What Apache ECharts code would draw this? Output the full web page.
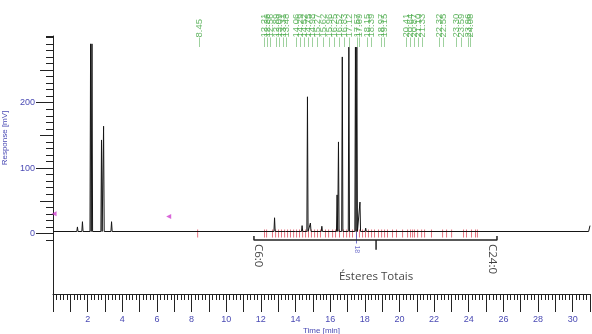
<!DOCTYPE html>
<html>
<head>
<meta charset="utf-8">
<script src="https://cdn.jsdelivr.net/npm/echarts@6/dist/echarts.min.js"></script>
<style>
  html, body { margin: 0; padding: 0; background: #fff; }
  #chart { width: 592px; height: 334px; }
</style>
</head>
<body>
<div id="chart"></div>
<script>
// chromatogram peaks: retention time [min] and response [mV]
const peakTimes = [1.25, 1.41, 1.70, 2.17, 2.25, 2.80, 2.92, 3.38, 12.79, 13.45, 14.02, 14.38, 14.69, 14.86, 15.52, 16.40, 16.48, 16.70, 17.08, 17.46, 17.54, 17.72, 18.05, 18.85];
const peakHeights = [4, 10, 18, 290, 290, 143, 164, 18, 24, 5, 6, 12, 209, 16, 11, 59, 140, 270, 285, 285, 285, 48, 8, 6];
const baseline = 3;
const runEndTimes = [30.92, 31.0];
const runEndValues = [3, 12];

// retention times written above the trace
const peakLabelTimes = [8.45, 12.21, 12.36, 12.56, 12.89, 13.09, 13.31, 13.48, 14.06, 14.29, 14.52, 14.75, 14.98, 15.27,
  15.62, 15.96, 16.25, 16.52, 16.83, 17.12, 17.57, 17.69, 18.15, 18.39, 18.97, 19.15, 20.41, 20.64, 20.87,
  21.10, 21.33, 22.32, 22.55, 23.30, 23.59, 23.96, 24.08];

// integration markers (red)
const markerTimes = [8.35, 12.21, 12.33, 12.67, 12.85, 13.02, 13.19, 13.37, 13.54, 13.71, 13.89, 14.06, 14.23, 14.41,
  14.58, 14.75, 14.92, 15.10, 15.27, 15.44, 15.73, 15.91, 16.14, 16.31, 16.54, 16.77, 16.95, 17.12, 17.29,
  17.52, 17.69, 17.87, 18.04, 18.21, 18.39, 18.56, 18.79, 18.97, 19.14, 19.31, 19.60, 19.83, 20.18, 20.47,
  20.64, 20.76, 20.87, 21.05, 21.28, 21.45, 21.85, 22.49, 22.72, 23.01, 23.70, 23.87, 24.16, 24.39, 24.50];

// total esters window
const windowStart = 11.6;
const windowEnd = 25.63;
const windowMid = 18.65;
const windowNames = ['C6:0', 'C24:0', 'Ésteres Totais'];

const yMajor = [0, 100, 200];
const yMedium = [-50, 50, 150, 250];

const blue = '#4a4ab4';
const axisColor = '#222';

const trace = [[0, baseline]];
const halfWidth = 0.035;
peakTimes.forEach((t, i) => {
  trace.push([t - halfWidth, baseline], [t, peakHeights[i]], [t + halfWidth, baseline]);
});
runEndTimes.forEach((t, i) => trace.push([t, runEndValues[i]]));

const chart = echarts.init(document.getElementById('chart'));
const option = {
  animation: false,
  grid: [
    { left: 53, right: 2, top: 36, height: 204, outerBoundsMode: 'none' },
    { left: 53, right: 2, top: 240, height: 54, outerBoundsMode: 'none' },
    { left: 53, right: 2, top: 0, height: 47, outerBoundsMode: 'none' },
  ],
  xAxis: [
    { gridIndex: 0, type: 'value', min: 0, max: 31, show: false },
    {
      gridIndex: 1,
      type: 'value',
      min: 0,
      max: 31,
      interval: 1,
      position: 'bottom',
      axisLine: { lineStyle: { color: axisColor, width: 1 } },
      axisTick: { length: 18, lineStyle: { color: axisColor } },
      minorTick: { show: true, splitNumber: 5, length: 6, lineStyle: { color: axisColor } },
      splitLine: { show: false },
      axisLabel: {
        margin: 21,
        color: blue,
        fontSize: 9,
        fontFamily: 'Liberation Sans',
        formatter: (v) => (v > 0 && v % 2 === 0 ? String(v) : ''),
      },
      name: 'Time [min]',
      nameLocation: 'middle',
      nameGap: 33,
      nameTextStyle: { color: blue, fontSize: 8, fontFamily: 'Liberation Sans' },
    },
    { gridIndex: 2, type: 'value', min: 0, max: 31, show: false },
  ],
  yAxis: [
    {
      gridIndex: 0,
      type: 'value',
      position: 'left',
      min: -10,
      max: 302,
      axisLine: { show: true, lineStyle: { color: axisColor } },
      axisTick: { customValues: yMajor, length: 17, lineStyle: { color: axisColor } },
      axisLabel: {
        customValues: yMajor,
        margin: 18,
        color: blue,
        fontSize: 9,
        fontFamily: 'Liberation Sans',
      },
      splitLine: { show: false },
      name: 'Response [mV]',
      nameLocation: 'middle',
      nameGap: 36,
      nameTextStyle: { color: blue, fontSize: 8, fontFamily: 'Liberation Sans' },
    },
    {
      gridIndex: 0,
      type: 'value',
      position: 'left',
      min: -10,
      max: 302,
      axisLine: { show: false },
      axisTick: { customValues: yMedium, length: 13, lineStyle: { color: axisColor } },
      axisLabel: { show: false },
      splitLine: { show: false },
    },
    {
      gridIndex: 0,
      type: 'value',
      position: 'left',
      min: -10,
      max: 302,
      interval: 10,
      axisLine: { show: false },
      axisTick: { length: 7, lineStyle: { color: axisColor } },
      axisLabel: { show: false },
      splitLine: { show: false },
    },
    {
      gridIndex: 1,
      type: 'value',
      position: 'left',
      min: 0,
      max: 1,
      axisLine: { show: true, lineStyle: { color: axisColor } },
      axisTick: { show: false },
      axisLabel: { show: false },
      splitLine: { show: false },
    },
    { gridIndex: 2, type: 'value', min: 0, max: 1, show: false },
  ],
  series: [
    {
      type: 'scatter',
      name: 'markers',
      xAxisIndex: 0,
      yAxisIndex: 0,
      symbol: 'rect',
      symbolSize: [1, 8],
      itemStyle: { color: '#e05060' },
      data: markerTimes.map((t) => [t, 0]),
      z: 1,
    },
    {
      type: 'line',
      name: 'trace',
      xAxisIndex: 0,
      yAxisIndex: 0,
      showSymbol: false,
      symbol: 'none',
      lineStyle: { color: '#151515', width: 1 },
      data: trace,
      z: 3,
    },
    {
      type: 'scatter',
      name: 'labels',
      xAxisIndex: 2,
      yAxisIndex: 4,
      symbolSize: 0,
      data: peakLabelTimes.map((t) => [t, 0]),
      label: {
        show: true,
        position: [0, 0],
        rotate: 90,
        align: 'left',
        verticalAlign: 'middle',
        color: '#45a845',
        fontSize: 9.5,
        fontFamily: 'Liberation Sans',
        formatter: (p) => '—' + p.value[0].toFixed(2),
      },
    },
    {
      type: 'line',
      name: 'window',
      xAxisIndex: 0,
      yAxisIndex: 0,
      symbol: 'none',
      clip: false,
      lineStyle: { color: '#222', width: 1.5 },
      data: [[windowStart, -4], [windowStart, -10], [windowEnd, -10], [windowEnd, -4]],
    },
    {
      type: 'line',
      name: 'window mid',
      xAxisIndex: 0,
      yAxisIndex: 0,
      symbol: 'none',
      clip: false,
      lineStyle: { color: '#222', width: 1.5 },
      data: [[windowMid, -10], [windowMid, -25]],
    },
    {
      type: 'scatter',
      name: 'window names',
      xAxisIndex: 0,
      yAxisIndex: 0,
      symbolSize: 0,
      clip: false,
      data: [
        { value: [windowStart, -10], label: { position: [4, 4], rotate: -90, align: 'left', verticalAlign: 'middle', formatter: windowNames[0] } },
        { value: [windowEnd, -10], label: { position: [-5, 4], rotate: -90, align: 'left', verticalAlign: 'middle', formatter: windowNames[1] } },
        { value: [windowMid, -25], label: { position: [0, 27], align: 'center', verticalAlign: 'middle', formatter: windowNames[2] } },
      ],
      label: { show: true, color: '#111', fontSize: 11.5, fontFamily: 'Open Sans' },
    },
    {
      type: 'scatter',
      name: 'blue mark',
      xAxisIndex: 0,
      yAxisIndex: 0,
      symbol: 'rect',
      symbolSize: [1, 12],
      clip: false,
      itemStyle: { color: '#5050c0' },
      data: [[17.52, -6]],
      label: { show: true, position: [1, 14], rotate: -90, align: 'left', verticalAlign: 'middle', color: '#5050c0', fontSize: 7, formatter: '18' },
    },
    {
      type: 'scatter',
      name: 'pink marks',
      xAxisIndex: 0,
      yAxisIndex: 0,
      symbol: 'triangle',
      symbolRotate: 90,
      symbolSize: 5,
      clip: false,
      itemStyle: { color: '#d040d0' },
      data: [[0.06, 30], [6.68, 26]],
    },
  ],
};
chart.setOption(option);
</script>
</body>
</html>
